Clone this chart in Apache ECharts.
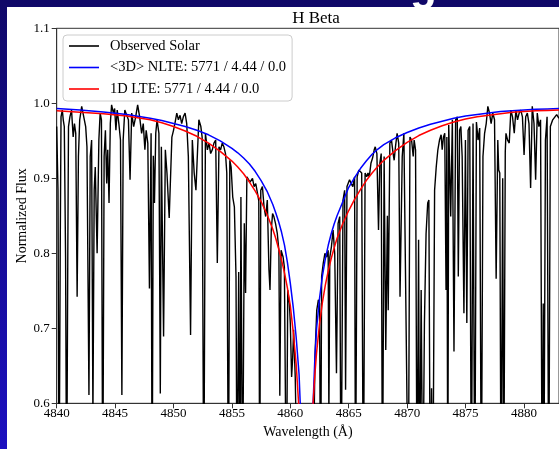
<!DOCTYPE html>
<html>
<head>
<meta charset="utf-8">
<script src="https://cdn.jsdelivr.net/npm/echarts@6/dist/echarts.min.js"></script>
<style>
  html, body { margin: 0; padding: 0; }
  #chart { width: 559px; height: 449px; }
</style>
</head>
<body>
<div id="chart"></div>
<script>
// Observed solar spectrum around H-beta (wavelength in Angstrom, normalized flux)
const obsWave = [
  4840.00, 4840.11, 4840.20, 4840.30, 4840.37, 4840.48, 4840.56, 4840.65, 4840.76, 4840.85,
  4840.95, 4841.01, 4841.13, 4841.27, 4841.41, 4841.52, 4841.63, 4841.75, 4841.86, 4841.97,
  4842.14, 4842.31, 4842.48, 4842.59, 4842.76, 4842.87, 4842.99, 4843.10, 4843.21, 4843.30,
  4843.46, 4843.61, 4843.72, 4843.83, 4843.94, 4844.06, 4844.17, 4844.28, 4844.37, 4844.48,
  4844.59, 4844.70, 4844.85, 4844.96, 4845.07, 4845.18, 4845.32, 4845.46, 4845.58, 4845.69,
  4845.83, 4845.97, 4846.14, 4846.28, 4846.42, 4846.59, 4846.76, 4846.93, 4847.10, 4847.27,
  4847.41, 4847.55, 4847.66, 4847.80, 4847.94, 4848.08, 4848.17, 4848.27, 4848.37, 4848.48,
  4848.59, 4848.75, 4848.87, 4848.96, 4849.15, 4849.30, 4849.44, 4849.63, 4849.86, 4850.00,
  4850.14, 4850.28, 4850.42, 4850.56, 4850.70, 4850.84, 4850.99, 4851.13, 4851.27, 4851.46,
  4851.61, 4851.77, 4851.92, 4852.06, 4852.17, 4852.34, 4852.45, 4852.59, 4852.73, 4852.90,
  4853.04, 4853.18, 4853.32, 4853.46, 4853.61, 4853.75, 4853.89, 4854.03, 4854.17, 4854.31,
  4854.45, 4854.56, 4854.70, 4854.82, 4854.93, 4855.07, 4855.21, 4855.35, 4855.44, 4855.58,
  4855.69, 4855.77, 4855.91, 4856.06, 4856.17, 4856.28, 4856.42, 4856.55, 4856.76, 4856.90,
  4857.04, 4857.19, 4857.30, 4857.38, 4857.47, 4857.61, 4857.75, 4857.89, 4858.03, 4858.17,
  4858.26, 4858.37, 4858.48, 4858.59, 4858.73, 4858.88, 4859.02, 4859.10, 4859.21, 4859.38,
  4859.49, 4859.66, 4859.78, 4859.92, 4860.00, 4860.11, 4860.20, 4860.28, 4860.42, 4860.57,
  4860.90, 4861.30, 4861.70, 4861.97, 4862.11, 4862.26, 4862.40, 4862.50, 4862.59, 4862.68,
  4862.82, 4862.96, 4863.10, 4863.24, 4863.30, 4863.38, 4863.52, 4863.66, 4863.80, 4863.95,
  4864.09, 4864.23, 4864.34, 4864.51, 4864.65, 4864.73, 4864.85, 4864.93, 4865.07, 4865.21,
  4865.35, 4865.50, 4865.58, 4865.72, 4865.86, 4865.97, 4866.11, 4866.25, 4866.40, 4866.54,
  4866.65, 4866.76, 4866.90, 4867.04, 4867.18, 4867.27, 4867.41, 4867.55, 4867.66, 4867.78,
  4867.89, 4868.03, 4868.17, 4868.31, 4868.38, 4868.52, 4868.66, 4868.80, 4868.89, 4869.00,
  4869.14, 4869.28, 4869.39, 4869.58, 4869.72, 4869.86, 4870.10, 4870.24, 4870.38, 4870.52,
  4870.60, 4870.72, 4870.85, 4870.98, 4871.06, 4871.20, 4871.34, 4871.48, 4871.62, 4871.76,
  4871.86, 4871.98, 4872.09, 4872.20, 4872.35, 4872.49, 4872.63, 4872.77, 4872.91, 4873.00,
  4873.11, 4873.22, 4873.33, 4873.40, 4873.48, 4873.56, 4873.73, 4873.87, 4874.01, 4874.15,
  4874.29, 4874.38, 4874.49, 4874.60, 4874.71, 4874.86, 4874.99, 4875.11, 4875.22, 4875.36,
  4875.50, 4875.64, 4875.79, 4875.93, 4876.07, 4876.21, 4876.35, 4876.49, 4876.63, 4876.77,
  4876.91, 4877.05, 4877.19, 4877.33, 4877.48, 4877.62, 4877.76, 4877.84, 4877.93, 4878.04,
  4878.18, 4878.27, 4878.40, 4878.46, 4878.60, 4878.74, 4878.88, 4879.02, 4879.17, 4879.31,
  4879.45, 4879.59, 4879.73, 4879.87, 4880.01, 4880.15, 4880.29, 4880.43, 4880.57, 4880.71,
  4880.86, 4881.00, 4881.14, 4881.28, 4881.42, 4881.56, 4881.65, 4881.70, 4881.84, 4881.98,
  4882.12, 4882.26, 4882.46, 4882.80, 4883.00
];
const obsFlux = [
  0.969, 0.884, 0.450, 0.800, 0.982, 0.991, 0.978, 0.969, 0.795, 0.450,
  0.800, 0.969, 0.982, 0.991, 0.955, 0.973, 0.960, 0.742, 0.929, 0.978,
  0.996, 0.996, 0.969, 0.942, 0.611, 0.929, 0.951, 0.580, 0.884, 0.915,
  0.800, 0.951, 0.987, 0.978, 0.450, 0.929, 0.964, 0.893, 0.938, 0.867,
  0.973, 0.998, 0.987, 0.993, 0.964, 0.991, 0.973, 0.951, 0.611, 0.951,
  0.991, 0.993, 0.978, 0.898, 0.987, 0.969, 0.982, 0.998, 0.982, 0.960,
  0.973, 0.938, 0.964, 0.947, 0.753, 0.960, 0.450, 0.930, 0.867, 0.960,
  0.978, 0.960, 0.613, 0.942, 0.689, 0.938, 0.907, 0.847, 0.955, 0.964,
  0.975, 0.987, 0.978, 0.984, 0.973, 0.982, 0.987, 0.973, 0.929, 0.691,
  0.951, 0.907, 0.884, 0.938, 0.978, 0.969, 0.955, 0.450, 0.960, 0.938,
  0.947, 0.933, 0.938, 0.947, 0.951, 0.787, 0.942, 0.938, 0.947, 0.942,
  0.933, 0.907, 0.450, 0.924, 0.915, 0.875, 0.862, 0.769, 0.450, 0.775,
  0.450, 0.875, 0.450, 0.840, 0.747, 0.902, 0.904, 0.895, 0.900, 0.889,
  0.893, 0.880, 0.870, 0.450, 0.884, 0.889, 0.862, 0.849, 0.871, 0.778,
  0.751, 0.831, 0.853, 0.849, 0.840, 0.827, 0.804, 0.610, 0.804, 0.795,
  0.782, 0.450, 0.751, 0.733, 0.706, 0.635, 0.660, 0.698, 0.635, 0.500,
  0.350, 0.250, 0.350, 0.500, 0.662, 0.724, 0.738, 0.733, 0.450, 0.769,
  0.787, 0.800, 0.795, 0.804, 0.580, 0.795, 0.809, 0.831, 0.800, 0.640,
  0.840, 0.849, 0.450, 0.871, 0.884, 0.618, 0.889, 0.889, 0.898, 0.893,
  0.889, 0.902, 0.450, 0.902, 0.911, 0.913, 0.907, 0.450, 0.907, 0.902,
  0.907, 0.902, 0.920, 0.927, 0.938, 0.942, 0.933, 0.831, 0.920, 0.933,
  0.450, 0.929, 0.671, 0.850, 0.724, 0.947, 0.951, 0.933, 0.924, 0.942,
  0.960, 0.947, 0.742, 0.929, 0.960, 0.962, 0.450, 0.955, 0.951, 0.929,
  0.951, 0.938, 0.450, 0.818, 0.450, 0.751, 0.450, 0.707, 0.826, 0.867,
  0.871, 0.450, 0.620, 0.450, 0.884, 0.915, 0.938, 0.951, 0.958, 0.938,
  0.955, 0.960, 0.751, 0.955, 0.450, 0.971, 0.849, 0.978, 0.669, 0.978,
  0.982, 0.769, 0.964, 0.969, 0.929, 0.720, 0.951, 0.707, 0.964, 0.969,
  0.450, 0.973, 0.450, 0.975, 0.951, 0.967, 0.450, 0.929, 0.960, 0.973,
  0.996, 0.987, 0.973, 0.987, 0.978, 0.766, 0.951, 0.911, 0.907, 0.450,
  0.900, 0.450, 0.935, 0.960, 0.951, 0.947, 0.991, 0.982, 0.960, 0.991,
  0.978, 0.987, 0.991, 0.982, 0.931, 0.982, 0.987, 0.973, 0.887, 0.996,
  0.973, 0.898, 0.987, 0.969, 0.978, 0.450, 0.733, 0.450, 0.951, 0.982,
  0.450, 0.969, 0.978, 0.985, 0.980
];

// Synthetic H-beta profiles on a shared wavelength grid
const modelWave = [
  4840, 4842, 4844, 4846, 4848, 4849, 4850, 4851, 4852, 4853,
  4854, 4855, 4855.5, 4856, 4856.5, 4857, 4857.5, 4858, 4858.5, 4858.75,
  4859, 4859.25, 4859.5, 4859.75, 4860, 4860.25, 4860.5, 4860.75, 4861.0, 4861.35,
  4861.7, 4861.95, 4862.1, 4862.25, 4862.5, 4862.75, 4863, 4863.25, 4863.5, 4863.75,
  4864, 4864.5, 4865, 4865.5, 4866, 4866.5, 4867, 4867.5, 4868, 4869,
  4870, 4871, 4872, 4873, 4874, 4875, 4876, 4877, 4878, 4879,
  4880, 4881, 4882, 4883
];
const nlteFlux = [
  0.993, 0.991, 0.9885, 0.985, 0.980, 0.977, 0.973, 0.969, 0.964, 0.958,
  0.950, 0.940, 0.934, 0.927, 0.919, 0.909, 0.897, 0.883, 0.865, 0.854,
  0.842, 0.828, 0.811, 0.788, 0.760, 0.728, 0.688, 0.638, 0.540, 0.380,
  0.530, 0.600, 0.660, 0.700, 0.740, 0.770, 0.793, 0.811, 0.826, 0.839,
  0.850, 0.869, 0.888, 0.901, 0.913, 0.923, 0.932, 0.939, 0.945, 0.954,
  0.961, 0.967, 0.972, 0.976, 0.980, 0.983, 0.985, 0.987, 0.989, 0.990,
  0.991, 0.992, 0.9925, 0.993
];
const lteFlux = [
  0.990, 0.988, 0.986, 0.983, 0.978, 0.974, 0.969, 0.963, 0.956, 0.947,
  0.936, 0.923, 0.915, 0.906, 0.895, 0.883, 0.869, 0.852, 0.832, 0.820,
  0.806, 0.791, 0.774, 0.754, 0.730, 0.695, 0.652, 0.590, 0.500, 0.380,
  0.510, 0.600, 0.638, 0.668, 0.706, 0.735, 0.758, 0.777, 0.793, 0.807,
  0.820, 0.840, 0.857, 0.872, 0.885, 0.897, 0.907, 0.916, 0.924, 0.937,
  0.948, 0.957, 0.964, 0.970, 0.975, 0.979, 0.982, 0.984, 0.986, 0.988,
  0.989, 0.990, 0.9905, 0.991
];

const seriesNames = ['Observed Solar', '<3D> NLTE: 5771 / 4.44 / 0.0', '1D LTE: 5771 / 4.44 / 0.0'];
const seriesColors = ['#000000', '#0000ff', '#ff0000'];

const pairs = (xs, ys) => xs.map((x, i) => [x, ys[i]]);
const serif = '"Liberation Serif", "DejaVu Serif", serif';

const chart = echarts.init(document.getElementById('chart'), null, { renderer: 'canvas' });

chart.setOption({
  animation: false,
  backgroundColor: new echarts.graphic.LinearGradient(0, 0, 0, 1, [
    { offset: 0, color: '#100868' },
    { offset: 1, color: '#1c10c0' }
  ]),
  graphic: [
    {
      // descender of the slide heading peeking above the figure
      type: 'text', left: 410, top: -34, z: -2, silent: true,
      style: { text: 'g', fill: '#ffffff', font: 'bold 44px "Liberation Sans", sans-serif' }
    },
    {
      type: 'rect', left: 7, top: 7, z: -1, silent: true,
      shape: { width: 552, height: 442 },
      style: { fill: '#ffffff' }
    }
  ],
  title: {
    text: 'H Beta', left: 311, top: 5, textAlign: 'center',
    textStyle: { fontFamily: serif, fontWeight: 'normal', fontSize: 17, color: '#000' }
  },
  grid: {
    left: 56.7, right: -6.4, top: 28.3, bottom: 45.7,
    show: true, borderColor: '#333', borderWidth: 1, backgroundColor: 'transparent'
  },
  legend: {
    data: seriesNames,
    orient: 'vertical', left: 63, top: 35,
    icon: 'rect', itemWidth: 30, itemHeight: 1.6, itemGap: 5.5,
    padding: [3, 6, 4, 6],
    backgroundColor: 'rgba(255,255,255,0.85)',
    borderColor: '#cccccc', borderWidth: 1, borderRadius: 4,
    textStyle: { fontFamily: serif, fontSize: 14.5, color: '#000', lineHeight: 16, padding: [0, 0, 0, 6] }
  },
  xAxis: {
    type: 'value', min: 4840, max: 4883, interval: 5,
    name: 'Wavelength (Å)', nameLocation: 'middle', nameGap: 22, nameMoveOverlap: false,
    nameTextStyle: { fontFamily: serif, fontSize: 14, color: '#000' },
    axisLine: { show: true, lineStyle: { color: '#333', width: 1 } },
    axisTick: { show: true, inside: false, length: 5, lineStyle: { color: '#333' } },
    axisLabel: {
      fontFamily: serif, fontSize: 13, color: '#000', margin: 4,
      showMaxLabel: false,
      formatter: v => (v % 5 === 0 ? String(v) : '')
    },
    splitLine: { show: false }
  },
  yAxis: {
    type: 'value', min: 0.6, max: 1.1, interval: 0.1,
    name: 'Normalized Flux', nameLocation: 'middle', nameGap: 27, nameRotate: 90,
    nameMoveOverlap: false,
    nameTextStyle: { fontFamily: serif, fontSize: 14, color: '#000' },
    axisLine: { show: true, lineStyle: { color: '#333', width: 1 } },
    axisTick: { show: true, inside: false, length: 5, lineStyle: { color: '#333' } },
    axisLabel: {
      fontFamily: serif, fontSize: 13, color: '#000', margin: 7,
      formatter: v => v.toFixed(1)
    },
    splitLine: { show: false }
  },
  series: [
    {
      name: seriesNames[0], type: 'line', data: pairs(obsWave, obsFlux),
      showSymbol: false, clip: true, color: seriesColors[0],
      lineStyle: { color: seriesColors[0], width: 1.4 }, z: 2
    },
    {
      name: seriesNames[1], type: 'line', data: pairs(modelWave, nlteFlux),
      showSymbol: false, clip: true, color: seriesColors[1],
      lineStyle: { color: seriesColors[1], width: 1.5 }, z: 3
    },
    {
      name: seriesNames[2], type: 'line', data: pairs(modelWave, lteFlux),
      showSymbol: false, clip: true, color: seriesColors[2],
      lineStyle: { color: seriesColors[2], width: 1.5 }, z: 4
    }
  ]
});
</script>
</body>
</html>
